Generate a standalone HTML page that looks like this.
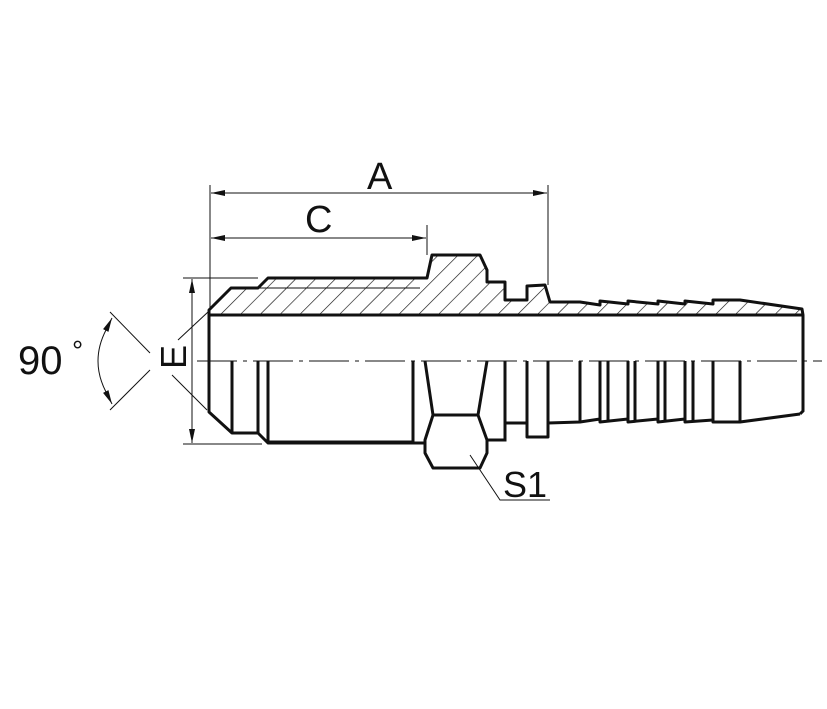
<!DOCTYPE html>
<html><head><style>body{margin:0;background:#fff}svg{display:block}text{font-family:"Liberation Sans",sans-serif;fill:#111}</style></head>
<body>
<svg width="827" height="709" viewBox="0 0 827 709" xmlns="http://www.w3.org/2000/svg">
<defs>
<pattern id="h" width="14" height="14" patternUnits="userSpaceOnUse" patternTransform="rotate(45)">
<line x1="0" y1="0" x2="0" y2="14" stroke="#111" stroke-width="1.3"/>
</pattern>
<marker id="ar" markerWidth="14" markerHeight="8" refX="14" refY="4" orient="auto" markerUnits="userSpaceOnUse">
<path d="M0,1 L14,4 L0,7 Z" fill="#111"/></marker>
</defs>
<g fill="none" stroke="#111">
<path d="M209,315 L209,310 L231,288 L258,288 L268,278 L427,278 L432,255 L480,255 L487,270 L487,282 L505,282 L505,300 L527,300 L527,286 L545,285 L550,302 L580,302 L600,305 L600,301 L628,304 L628,301 L658,304 L658,301 L685,304 L685,301 L713,304 L713,300 L740,300 L802,309 L803,315 Z" fill="url(#h)" stroke="#111" stroke-width="3" stroke-linejoin="round"/>
<line x1="258" y1="288" x2="420" y2="288" stroke-width="1"/>
<line x1="209" y1="315" x2="803" y2="315" stroke-width="3"/>
<path d="M803,315 L803,411 L800,414" stroke-width="3"/>
<path d="M209,315 L209,412 L232,433 L258,433 L268,443 L425,443" stroke-width="3" stroke-linejoin="round"/>
<line x1="268" y1="441" x2="413" y2="441" stroke-width="1"/>
<line x1="232" y1="361" x2="232" y2="433" stroke-width="3"/>
<line x1="258" y1="361" x2="258" y2="433" stroke-width="3"/>
<line x1="268" y1="361" x2="268" y2="443" stroke-width="3"/>
<line x1="413" y1="361" x2="413" y2="443" stroke-width="3"/>
<!-- hex -->
<path d="M425,361 L433,415 L425,440 L425,453 L433,468 L480,468 L487,453 L487,440 L478,415 L487,361" stroke-width="3" stroke-linejoin="round"/>
<path d="M433,415 L478,415" stroke-width="3"/>
<path d="M487,440 L505,440 L505,361" stroke-width="3"/>
<path d="M505,423 L527,423 M527,361 L527,437 L548,437 L548,361 M548,423 L580,422 L600,419 L600,422 L628,419 L628,422 L658,419 L658,422 L685,419 L685,422 L713,420 L713,422 L740,422 L800,414" stroke-width="3" stroke-linejoin="round"/>
<g stroke-width="3">
<line x1="580" y1="361" x2="580" y2="422"/><line x1="600" y1="361" x2="600" y2="422"/><line x1="608" y1="361" x2="608" y2="421"/>
<line x1="628" y1="361" x2="628" y2="422"/><line x1="635" y1="361" x2="635" y2="421"/><line x1="658" y1="361" x2="658" y2="422"/>
<line x1="665" y1="361" x2="665" y2="421"/><line x1="685" y1="361" x2="685" y2="422"/><line x1="693" y1="361" x2="693" y2="421"/>
<line x1="713" y1="361" x2="713" y2="422"/><line x1="740" y1="361" x2="740" y2="422"/>
</g>
<line x1="197" y1="361" x2="822" y2="361" stroke-width="1" stroke-dasharray="40,6,4,6"/>
<g stroke-width="1">
<line x1="210" y1="185" x2="210" y2="308"/>
<line x1="548" y1="185" x2="548" y2="285"/>
<line x1="427" y1="225" x2="427" y2="255"/>
<line x1="380" y1="193" x2="211" y2="193" marker-end="url(#ar)"/>
<line x1="380" y1="193" x2="547" y2="193" marker-end="url(#ar)"/>
<line x1="320" y1="238" x2="211" y2="238" marker-end="url(#ar)"/>
<line x1="320" y1="238" x2="426" y2="238" marker-end="url(#ar)"/>
<line x1="183" y1="278" x2="258" y2="278"/>
<line x1="183" y1="444" x2="262" y2="444"/>
<line x1="192" y1="360" x2="192" y2="279" marker-end="url(#ar)"/>
<line x1="192" y1="360" x2="192" y2="443" marker-end="url(#ar)"/>
<line x1="110" y1="312" x2="150" y2="353"/>
<line x1="110" y1="410" x2="150" y2="370"/>
<line x1="178" y1="340" x2="208" y2="312"/>
<line x1="172" y1="375" x2="207" y2="410"/>
<path d="M106,330 Q90,361 106,392"/>
<path d="M106,330 L112,318" marker-end="url(#ar)"/>
<path d="M106,392 L112,404" marker-end="url(#ar)"/>
<path d="M470,455 L500,500 L550,500"/>
</g>
</g>
<text x="367" y="189" font-size="38">A</text>
<text x="305" y="232" font-size="38">C</text>
<text x="503" y="497" font-size="36">S1</text>
<text x="18" y="374" font-size="40">90</text>
<text x="72" y="360" font-size="28">°</text>
<text transform="translate(186,357) rotate(-90)" font-size="36" text-anchor="middle">E</text>
</svg>
</body></html>
